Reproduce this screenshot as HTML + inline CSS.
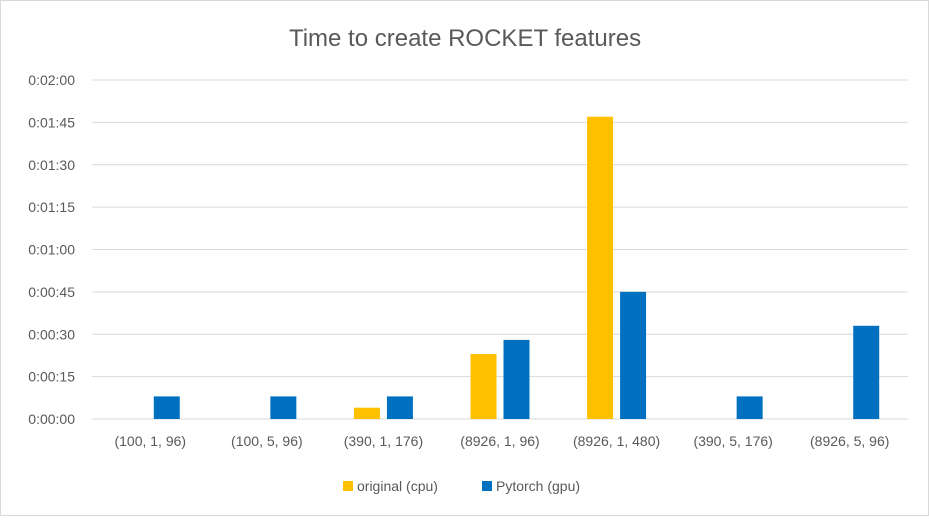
<!DOCTYPE html>
<html><head><meta charset="utf-8"><style>
body{margin:0;background:#fff;font-family:"Liberation Sans",sans-serif}
svg text{font-family:"Liberation Sans",sans-serif}
</style></head><body>
<svg id="chart" width="929" height="516" xmlns="http://www.w3.org/2000/svg">
<rect x="0.5" y="0.5" width="928" height="515" fill="#fff" stroke="#d9d9d9"/>
<text x="465" y="46" text-anchor="middle" font-size="24" fill="#595959">Time to create ROCKET features</text>
<g id="grid"></g><g id="bars"></g><g id="xlabels"></g>
<g>
<rect x="343" y="481" width="10" height="10" fill="#FFC000"/>
<text x="357" y="491" font-size="14" fill="#595959">original (cpu)</text>
<rect x="482" y="481" width="10" height="10" fill="#0070C0"/>
<text x="496" y="491" font-size="14" fill="#595959">Pytorch (gpu)</text>
</g>
</svg>
<script>
const categories=["(100, 1, 96)","(100, 5, 96)","(390, 1, 176)","(8926, 1, 96)","(8926, 1, 480)","(390, 5, 176)","(8926, 5, 96)"];
const originalCpu=[0,0,4,23,107,0,0];
const pytorchGpu=[8,8,8,28,45,8,33];
const yTicks=[0,15,30,45,60,75,90,105,120];
const yTickLabels=["0:00:00","0:00:15","0:00:30","0:00:45","0:01:00","0:01:15","0:01:30","0:01:45","0:02:00"];
const NS="http://www.w3.org/2000/svg";
const x0=92,x1=908,yBase=419,yTop=80,yMax=120;
const y=v=>yBase-(v/yMax)*(yBase-yTop);
const bw=(x1-x0)/categories.length;
const xc=i=>x0+bw*(i+0.5);
function mk(tag,attrs,parent){const e=document.createElementNS(NS,tag);for(const k in attrs)e.setAttribute(k,attrs[k]);document.getElementById(parent).appendChild(e);return e;}
yTicks.forEach((t,i)=>{
  const l=mk('line',{x1:x0,x2:x1,y1:y(t),y2:y(t),stroke:'#d9d9d9','stroke-width':1},'grid');
  
  
  const tx=mk('text',{x:75,y:y(t)+5,'text-anchor':'end','font-size':14,fill:'#595959'},'grid');
  tx.textContent=yTickLabels[i];
  
  
});
const barW=26,gap=7;
categories.forEach((c,i)=>{
  if(originalCpu[i]>0){
    const r=mk('rect',{x:xc(i)-gap/2-barW,y:y(originalCpu[i]),width:barW,height:yBase-y(originalCpu[i]),fill:'#FFC000'},'bars');
    
    
  }
  if(pytorchGpu[i]>0){
    const r=mk('rect',{x:xc(i)+gap/2,y:y(pytorchGpu[i]),width:barW,height:yBase-y(pytorchGpu[i]),fill:'#0070C0'},'bars');
    
    
  }
  const tx=mk('text',{x:xc(i),y:446,'text-anchor':'middle','font-size':14,fill:'#595959'},'xlabels');
  tx.textContent=c;
  
  
});
</script>
</body></html>
